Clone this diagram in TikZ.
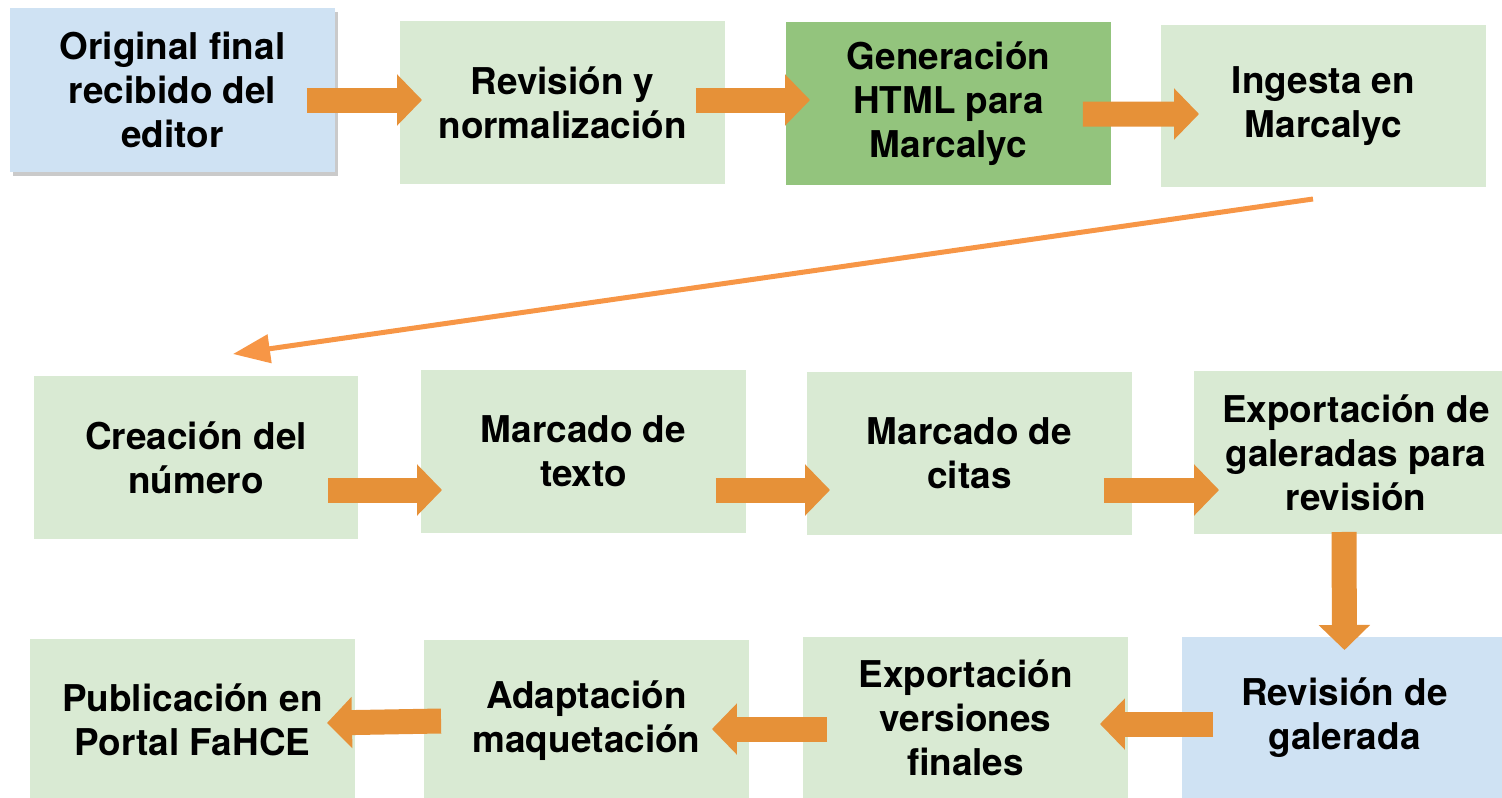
\documentclass[tikz,border=0pt]{standalone}
\usepackage{fontspec}
\setmainfont{TeX Gyre Heros}
\usetikzlibrary{arrows.meta,shadows}
\definecolor{boxgreen}{HTML}{D9EAD3}
\definecolor{boxblue}{HTML}{CFE2F3}
\definecolor{darkgreen}{HTML}{93C47D}
\definecolor{arrorange}{HTML}{E69138}
\definecolor{lineorange}{HTML}{F79646}
\begin{document}
\begin{tikzpicture}[x=0.02cm,y=-0.02cm,inner sep=0pt,outer sep=0pt,
stepbox/.style={rectangle,fill=boxgreen,minimum width=6.5cm,minimum height=3.26cm,align=center,
  font=\bfseries\fontsize{21}{25}\selectfont},
fat/.style={draw=arrorange,line width=0.5cm,-{Triangle[length=0.5cm,width=1cm,fill=arrorange]}},
thin/.style={draw=lineorange,line width=0.1cm,-{Triangle[length=0.74cm,width=0.56cm,fill=lineorange]}}]
\useasboundingbox (0,0) rectangle (1502,798);
% first row
\draw (172.5,90) node[stepbox,fill=boxblue,minimum height=3.28cm,
  drop shadow={shadow xshift=0.06cm,shadow yshift=-0.08cm,opacity=0.35,fill=black!60}] (orig) {Original final\\recibido del\\editor};
\draw (562.5,102.5) node[stepbox] (rev) {Revisión y\\normalización};
\draw (948.5,103.5) node[stepbox,fill=darkgreen] (gen) {Generación\\HTML para\\Marcalyc};
\draw (1323.5,106) node[stepbox] (ing) {Ingesta en\\Marcalyc};
% second row
\draw (196,457.5) node[stepbox] (crea) {Creación del\\número};
\draw (583.5,451.5) node[stepbox] (mtex) {Marcado de\\texto};
\draw (969.5,453.5) node[stepbox] (mcit) {Marcado de\\citas};
\draw (1356,452.5) node[stepbox] (expg) {Exportación de\\galeradas para\\revisión};
% third row
\draw (192.5,720) node[stepbox] (pub) {Publicación en\\Portal FaHCE};
\draw (586.5,721) node[stepbox] (adap) {Adaptación\\maquetación};
\draw (965.5,718) node[stepbox] (expv) {Exportación\\versiones\\finales};
\draw (1344.5,718) node[stepbox,fill=boxblue] (revg) {Revisión de\\galerada};
% arrows
\draw[fat] ([shift={(-28,10)}]orig.east) -- ([shift={(22,-2.5)}]rev.west);
\draw[fat] ([shift={(-29,-2.5)}]rev.east) -- ([shift={(24,-3.5)}]gen.west);
\draw[fat] ([shift={(-28,10.5)}]gen.east) -- ([shift={(38,8)}]ing.west);
\draw[thin] ([shift={(-10.5,11.5)}]ing.south) -- ([shift={(37,-22)}]crea.north);
\draw[fat] ([shift={(-30,32.5)}]crea.east) -- ([shift={(21,38.5)}]mtex.west);
\draw[fat] ([shift={(-30,38.5)}]mtex.east) -- ([shift={(23,36.5)}]mcit.west);
\draw[fat] ([shift={(-28,36.5)}]mcit.east) -- ([shift={(25.5,37.5)}]expg.west);
\draw[fat] ([shift={(-12,-2)}]expg.south) -- ([shift={(0,13.5)}]revg.north);
\draw[fat] ([shift={(31,6)}]revg.west) -- ([shift={(-28,6)}]expv.east);
\draw[fat] ([shift={(24,11)}]expv.west) -- ([shift={(-37,8)}]adap.east);
\draw[fat] ([shift={(17,0)}]adap.west) -- ([shift={(-28,3)}]pub.east);
\end{tikzpicture}
\end{document}
